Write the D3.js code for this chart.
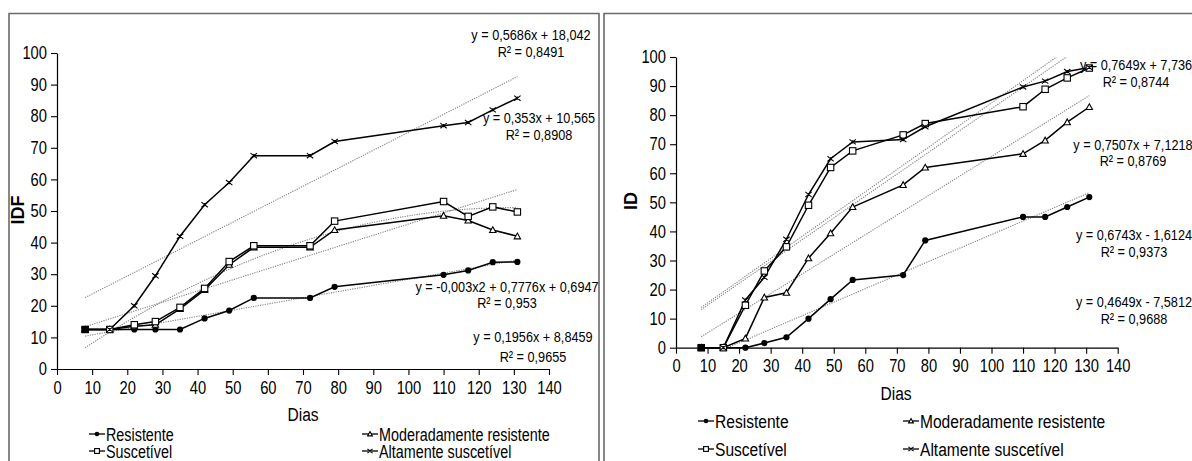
<!DOCTYPE html>
<html><head><meta charset="utf-8">
<script src="https://cdn.jsdelivr.net/npm/d3@7"></script>
<style>
html,body{margin:0;padding:0;background:#fff;}
svg text{font-family:"Liberation Sans",Arial,sans-serif;fill:#000;}
</style></head>
<body>
<svg id="c" width="1192" height="461"></svg>
<script>
// ---------- DATA ----------
const days = [8, 15, 22, 28, 35, 42, 49, 56, 72, 79, 110, 117, 124, 131];
const seriesNames = ["Resistente", "Moderadamente resistente", "Suscetível", "Altamente suscetível"];
const xTicks = [0,10,20,30,40,50,60,70,80,90,100,110,120,130,140];
const yTicks = [0,10,20,30,40,50,60,70,80,90,100];

// IDF (left panel)
const idfResistente   = [12.5, 12.5, 12.5, 12.5, 12.5, 16, 18.5, 22.5, 22.5, 26, 29.8, 31.2, 33.8, 33.9];
const idfModerado     = [12.5, 12.5, 13.5, 14, 19, 25, 33, 38.5, 38.5, 44, 48.5, 47, 44, 42];
const idfSuscetivel   = [12.5, 12.5, 14, 15, 19.5, 25.5, 34, 39, 39, 46.8, 53, 48.3, 51.3, 49.7];
const idfAltamente    = [12.5, 12.5, 20, 29.5, 42, 52, 59, 67.5, 67.5, 72, 77, 78, 82, 85.7];

// ID (right panel)
const idResistente    = [0, 0, 0, 1.6, 3.6, 10, 16.7, 23.3, 25, 36.9, 45, 45, 48.4, 51.8];
const idModerado      = [0, 0, 3.2, 17.3, 18.9, 30.8, 39.4, 48.4, 56, 62, 66.7, 71.3, 77.6, 82.8];
const idSuscetivel    = [0, 0, 14.6, 26.4, 34.7, 49, 62, 67.7, 73.2, 77.1, 82.9, 88.9, 92.8, 96.2];
const idAltamente     = [0, 0, 16.4, 24.2, 37.3, 52.7, 65, 70.8, 71.6, 76, 89.7, 91.7, 95, 96.4];

// Trendline coefficients [a2, a1, a0] (y = a2 x² + a1 x + a0)
const idfTrendCoef = [[0,0.1956,8.8459],[-0.003,0.7776,0.6947],[0,0.353,10.565],[0,0.5686,18.042]];
const idTrendCoef  = [[0,0.4649,-7.5812],[0,0.6743,-1.6124],[0,0.7507,7.1218],[0,0.7649,7.736]];

// Equation labels
const idfEqText = [["y = 0,1956x + 8,8459","R² = 0,9655"],["y = -0,003x2 + 0,7776x + 0,6947","R² = 0,953"],["y = 0,353x + 10,565","R² = 0,8908"],["y = 0,5686x + 18,042","R² = 0,8491"]];
const idEqText  = [["y = 0,4649x - 7,5812","R² = 0,9688"],["y = 0,6743x - 1,6124","R² = 0,9373"],["y = 0,7507x + 7,1218","R² = 0,8769"],["y = 0,7649x + 7,736","R² = 0,8744"]];

// ---------- DRAW ----------
const NARROW = 0.82;
const svg = d3.select("#c");

function txt(g, x, y, s, size, anchor, extra){
  return g.append("text")
    .attr("transform", `translate(${x},${y}) ${extra||""} scale(${NARROW},1)`)
    .attr("text-anchor", anchor||"start").style("font-size", size+"px").text(s);
}

// panel frames
svg.append("path").attr("d","M9,470V13.5H599V470").attr("fill","none").attr("stroke","#6a6a6a").attr("stroke-width",1.6);
svg.append("path").attr("d","M604,470V13.5H1200").attr("fill","none").attr("stroke","#6a6a6a").attr("stroke-width",1.6);

function marker(g, type, x, y, legend){
  if(type===0){
    g.append("circle").attr("cx",x).attr("cy",y).attr("r",legend?2.3:3.1).attr("fill","#000");
  } else if(type===1){
    const s = legend?2.4:3.2;
    g.append("path").attr("d",`M${x},${y-s}L${x+s},${y+s*0.8}L${x-s},${y+s*0.8}Z`)
      .attr("fill","#fff").attr("stroke","#000").attr("stroke-width",1.1);
  } else if(type===2){
    const s = legend?2.4:3.2;
    g.append("rect").attr("x",x-s).attr("y",y-s).attr("width",2*s).attr("height",2*s)
      .attr("fill","#fff").attr("stroke","#000").attr("stroke-width",1.1);
  } else {
    const s = legend?2.6:3.2;
    g.append("path").attr("d",`M${x-s},${y-s*0.8}L${x+s},${y+s*0.8}M${x-s},${y+s*0.8}L${x+s},${y-s*0.8}M${x},${y-s*0.5}L${x},${y+s*0.5}`)
      .attr("stroke","#000").attr("stroke-width",1.1).attr("fill","none");
  }
}

function panel(cfg){
  const x = d3.scaleLinear().domain([0,140]).range(cfg.xr);
  const y = d3.scaleLinear().domain([0,100]).range(cfg.yr);
  const g = svg.append("g");
  const clipId = "clip"+cfg.id;
  svg.append("clipPath").attr("id",clipId).append("rect")
    .attr("x",cfg.xr[0]).attr("y",cfg.yr[1]).attr("width",cfg.xr[1]-cfg.xr[0]).attr("height",cfg.yr[0]-cfg.yr[1]);

  // axes
  const ya = g.append("g").attr("transform",`translate(${cfg.xr[0]},0)`)
    .call(d3.axisLeft(y).tickValues(yTicks).tickSize(6).tickPadding(4).tickSizeOuter(0));
  const xa = g.append("g").attr("transform",`translate(0,${cfg.yr[0]})`)
    .call(d3.axisBottom(x).tickValues(xTicks).tickSize(6).tickPadding(6).tickSizeOuter(0));
  [ya,xa].forEach(a=>{
    a.select(".domain").attr("stroke","#000").attr("stroke-width",1.2);
    a.selectAll(".tick line").attr("stroke","#000").attr("stroke-width",1.1);
    a.selectAll("text").style("font-size","18px").style("font-family",'"Liberation Sans",Arial,sans-serif');
  });
  ya.selectAll(".tick text").each(function(){
    const t = d3.select(this); const xx = +t.attr("x");
    t.attr("x",0).attr("transform",`translate(${xx},0) scale(${NARROW},1)`);
  });
  xa.selectAll(".tick text").attr("transform",`scale(${NARROW},1)`);

  // trendlines
  const tl = g.append("g").attr("clip-path",`url(#${clipId})`);
  cfg.coef.forEach(c=>{
    const pts = d3.range(8, 131.01, 1).map(d=>[d, c[0]*d*d + c[1]*d + c[2]]);
    tl.append("path").datum(pts)
      .attr("d", d3.line().x(p=>x(p[0])).y(p=>y(p[1])))
      .attr("fill","none").attr("stroke","#808080").attr("stroke-width",1.1).attr("stroke-dasharray","1.2,1.2");
  });

  // series
  cfg.series.forEach((vals,i)=>{
    const pts = days.map((d,k)=>[d, vals[k]]);
    g.append("path").datum(pts)
      .attr("d", d3.line().x(p=>x(p[0])).y(p=>y(p[1])))
      .attr("fill","none").attr("stroke","#000").attr("stroke-width",1.5);
  });
  cfg.series.forEach((vals,i)=>{
    days.forEach((d,k)=> marker(g, i, x(d), y(vals[k]), false));
  });
  g.append("rect").attr("x",x(8)-3.5).attr("y",y(cfg.series[0][0])-3.5).attr("width",7).attr("height",7).attr("fill","#000");

  // axis titles
  g.append("text").attr("transform",`translate(${cfg.ylab[0]},${cfg.ylab[1]}) rotate(-90)`)
    .attr("text-anchor","middle").style("font-size","18px").style("font-weight","bold").text(cfg.ytitle);
  txt(g, cfg.xlab[0], cfg.xlab[1], "Dias", 19, "middle");

  // equations
  cfg.eq.forEach((e,i)=>{
    const p = cfg.eqPos[i];
    txt(g, p[0], p[1], e[0], 15.5, "middle");
    txt(g, p[0], p[1]+p[2], e[1], 15.5, "middle");
  });

  // legend
  [0,1,2,3].forEach(i=>{
    const lp = cfg.leg[i];
    g.append("line").attr("x1",lp[0]).attr("x2",lp[0]+16).attr("y1",lp[1]).attr("y2",lp[1]).attr("stroke","#000").attr("stroke-width",1.3);
    marker(g, i, lp[0]+8, lp[1], true);
    txt(g, lp[0]+17, lp[1]+6.5, seriesNames[i], cfg.legSize);
  });
}

panel({
  id:"L", xr:[57,549], yr:[369,53], ytitle:"IDF", ylab:[24,210], xlab:[303,421],
  series:[idfResistente, idfModerado, idfSuscetivel, idfAltamente],
  coef: idfTrendCoef, eq: idfEqText,
  eqPos:[[533,342,20],[507,292,16],[539,123,17],[531,40,17]],
  leg:[[89,434],[362,434],[89,451],[362,451]], legSize:17.5
});
panel({
  id:"R", xr:[676,1117.7], yr:[347.7,57], ytitle:"ID", ylab:[637,201], xlab:[896,400],
  series:[idResistente, idModerado, idSuscetivel, idAltamente],
  coef: idTrendCoef, eq: idEqText,
  eqPos:[[1134,307,17],[1134,240,17],[1133,150,16],[1136,70,17]],
  leg:[[698,421],[903,421],[698,449],[903,449]], legSize:19
});
</script>
</body></html>
